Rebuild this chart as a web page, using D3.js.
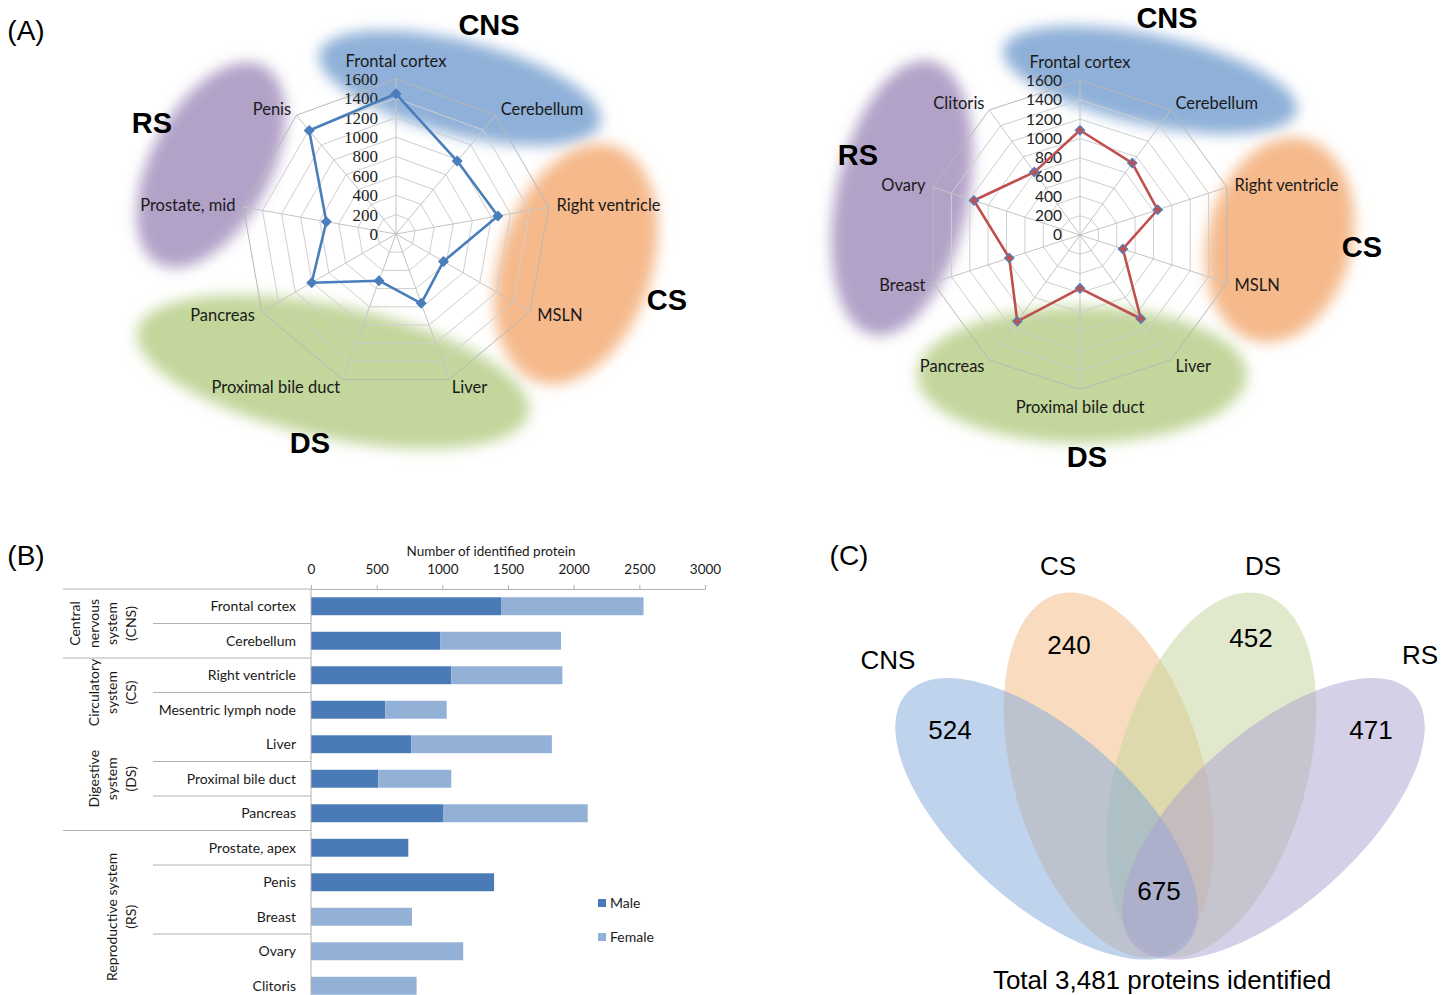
<!DOCTYPE html>
<html>
<head>
<meta charset="utf-8">
<script src="https://cdn.jsdelivr.net/npm/d3@7"></script>
<style>
  body { margin: 0; background: #fff; }
  svg { display: block; }
  .cal { font-family: Lato, "Open Sans", sans-serif; fill: #1a1a1a; }
  .ari { font-family: "Liberation Sans", Arial, sans-serif; fill: #000; }
</style>
</head>
<body>
<svg id="fig" width="1455" height="995"></svg>
<script>
// ---- data (A) radar charts
const maleTissues = ["Frontal cortex", "Cerebellum", "Right ventricle", "MSLN", "Liver",
  "Proximal bile duct", "Pancreas", "Prostate, mid", "Penis"];
const maleCounts = [1447, 983, 1068, 566, 762, 513, 1005, 730, 1394];
const femaleTissues = ["Frontal cortex", "Cerebellum", "Right ventricle", "MSLN", "Liver",
  "Proximal bile duct", "Pancreas", "Breast", "Ovary", "Clitoris"];
const femaleCounts = [1085, 921, 846, 467, 1072, 552, 1105, 770, 1155, 805];
const radarTicks = [0, 200, 400, 600, 800, 1000, 1200, 1400, 1600];

// ---- data (B) bar chart
const barTissues = ["Frontal cortex", "Cerebellum", "Right ventricle", "Mesentric lymph node",
  "Liver", "Proximal bile duct", "Pancreas", "Prostate, apex", "Penis", "Breast", "Ovary", "Clitoris"];
const barMale   = [1447, 983, 1068, 566, 762, 513, 1005, 741, 1394, 0, 0, 0];
const barFemale = [1085, 921, 846, 467, 1072, 555, 1102, 0, 0, 769, 1159, 804];
const barTicks = [0, 500, 1000, 1500, 2000, 2500, 3000];
const systemNames = [["Central", "nervous", "system", "(CNS)"], ["Circulatory", "system", "(CS)"],
  ["Digestive", "system", "(DS)"], ["Reproductive system", "(RS)"]];
const systemRows = [[0, 2], [2, 4], [4, 7], [7, 12]];

// ---- data (C) venn
const vennSets = ["CNS", "CS", "DS", "RS"];
const vennUnique = [524, 240, 452, 471];
const vennShared = 675;
const totalProteins = 3481;

const svg = d3.select("#fig");
const defs = svg.append("defs");
defs.append("filter").attr("id", "soft")
    .attr("x", "-40%").attr("y", "-40%").attr("width", "180%").attr("height", "180%")
  .append("feGaussianBlur").attr("stdDeviation", 7);

const sysColor = {CNS: "#8fb0d8", CS: "#f5b98b", DS: "#c3d69b", RS: "#b2a2c8"};

// panel letters
[["(A)", 26, 30], ["(B)", 26, 555], ["(C)", 849, 555]].forEach(d => {
  svg.append("text").attr("class", "ari").attr("x", d[1]).attr("y", d[2]).attr("dy", "0.35em")
    .attr("text-anchor", "middle").style("font-size", "28px").text(d[0]);
});

// ================= (A) radar =================
function radar(cx, cy, R, tissues, counts, opt) {
  const g = svg.append("g");
  // soft system blobs
  opt.blobs.forEach(b => {
    g.append("ellipse").attr("rx", b[3]).attr("ry", b[4])
      .attr("transform", `translate(${b[1]},${b[2]}) rotate(${b[5]})`)
      .attr("fill", sysColor[b[0]]).attr("filter", "url(#soft)");
  });
  opt.tags.forEach(t => {
    g.append("text").attr("class", "ari").attr("x", t[1]).attr("y", t[2]).attr("dy", "0.35em")
      .attr("text-anchor", "middle").style("font-size", "29px").style("font-weight", "bold").text(t[0]);
  });

  const n = tissues.length, step = 2 * Math.PI / n;
  const r = d3.scaleLinear().domain([0, 1600]).range([0, R]);
  const ring = d3.lineRadial().angle((d, i) => i * step).radius(d => r(d)).curve(d3.curveLinearClosed);

  // rings and spokes
  radarTicks.slice(1).forEach(t => {
    g.append("path").attr("d", ring(tissues.map(() => t)))
      .attr("fill", "none").attr("stroke", t === 1600 ? "#b8b8b8" : "#cfcfcf").attr("stroke-width", 1);
  });
  tissues.forEach((d, i) => {
    const a = i * step;
    g.append("line").attr("x1", cx).attr("y1", cy)
      .attr("x2", cx + r(1600) * Math.sin(a)).attr("y2", cy - r(1600) * Math.cos(a))
      .attr("stroke", "#c4c4c4").attr("stroke-width", 1);
  });
  g.selectAll("path").attr("transform", `translate(${cx},${cy})`);

  // tick labels
  radarTicks.forEach(t => {
    g.append("text").attr("x", cx - 18).attr("y", cy - r(t)).attr("dy", "0.35em")
      .attr("text-anchor", "end")
      .style("font-family", opt.tickFont).style("font-size", opt.tickSize).style("fill", "#222")
      .text(t);
  });

  // series
  g.append("path").attr("d", ring(counts)).attr("transform", `translate(${cx},${cy})`)
    .attr("fill", "none").attr("stroke", opt.line).attr("stroke-width", 2.6).attr("stroke-linejoin", "round");
  const sym = d3.symbol(d3.symbolSquare, 42);
  counts.forEach((v, i) => {
    const a = i * step;
    g.append("path").attr("d", sym())
      .attr("transform", `translate(${cx + r(v) * Math.sin(a)},${cy - r(v) * Math.cos(a)}) rotate(45)`)
      .attr("fill", opt.line).attr("stroke", opt.marker).attr("stroke-width", 1.3);
  });

  // category labels
  tissues.forEach((d, i) => {
    const a = i * step, s = Math.sin(a), c = Math.cos(a);
    let lx = cx + (R + 8) * s, ly = cy - (R + 8) * c;
    if (Math.abs(s) < 0.05) ly -= 10 * c;
    g.append("text").attr("class", "cal").attr("x", lx).attr("y", ly).attr("dy", "0.35em")
      .attr("text-anchor", Math.abs(s) < 0.05 ? "middle" : (s > 0 ? "start" : "end"))
      .style("font-size", "16.5px").text(d);
  });
}

radar(396, 234, 155, maleTissues, maleCounts, {
  line: "#4a7ebb", marker: "#4a7ebb", tickFont: "'Liberation Serif', serif", tickSize: "17px",
  blobs: [["CNS", 460, 88, 145, 47, 14], ["CS", 576, 264, 76, 124, 18],
          ["RS", 211, 165, 60, 112, 28], ["DS", 333, 372, 200, 66, 12]],
  tags: [["CNS", 489, 25], ["RS", 152, 123], ["CS", 667, 300], ["DS", 310, 443]]
});
radar(1080, 235, 154.5, femaleTissues, femaleCounts, {
  line: "#c0504d", marker: "#4f81bd", tickFont: "Lato, sans-serif", tickSize: "15.5px",
  blobs: [["CNS", 1150, 80, 150, 45, 12], ["CS", 1280, 240, 72, 104, 14],
          ["RS", 902, 198, 66, 140, 12], ["DS", 1082, 375, 165, 68, 0]],
  tags: [["CNS", 1167, 18], ["RS", 858, 155], ["CS", 1362, 247], ["DS", 1087, 457]]
});

// ================= (B) bar chart =================
const top0 = 589, rowH = 34.5;
const xB = d3.scaleLinear().domain([0, 3000]).range([311, 705]);
const yB = d3.scaleBand().domain(barTissues).range([top0, top0 + rowH * barTissues.length])
  .paddingInner(0.48).paddingOuter(0.24);
const gB = svg.append("g");

const barRows = barTissues.map((t, i) => ({tissue: t, Male: barMale[i], Female: barFemale[i]}));
const stack = d3.stack().keys(["Male", "Female"])(barRows);
const barColor = {Male: "#4a7bb7", Female: "#93b0d6"};

gB.selectAll("g.series").data(stack).join("g").attr("fill", d => barColor[d.key])
  .selectAll("rect").data(d => d).join("rect")
  .attr("x", d => xB(d[0])).attr("width", d => xB(d[1]) - xB(d[0]))
  .attr("y", d => yB(d.data.tissue)).attr("height", yB.bandwidth());

const axB = gB.append("g").attr("transform", `translate(0,${top0})`)
  .call(d3.axisTop(xB).tickValues(barTicks).tickFormat(d3.format("d"))
    .tickSize(4).tickSizeOuter(0).tickPadding(11));
axB.select(".domain").attr("stroke", "#b0b0b0");
axB.selectAll(".tick line").attr("stroke", "#b0b0b0");
axB.selectAll(".tick text").attr("class", "cal").style("font-size", "13.5px").attr("fill", "#222");
gB.append("text").attr("class", "cal").attr("x", 491).attr("y", 551).attr("dy", "0.35em")
  .attr("text-anchor", "middle").style("font-size", "13.5px").text("Number of identified protein");

// category axis line and separators
gB.append("line").attr("x1", xB(0)).attr("x2", xB(0)).attr("y1", top0).attr("y2", 995)
  .attr("stroke", "#b0b0b0");
const fullCuts = [0, 2, 7], shortCuts = [1, 3, 5, 6, 8, 10];
fullCuts.concat(shortCuts).forEach(k => {
  gB.append("line").attr("x1", fullCuts.includes(k) ? 63 : 153).attr("x2", xB(0))
    .attr("y1", top0 + k * rowH).attr("y2", top0 + k * rowH).attr("stroke", "#b0b0b0");
});
barTissues.forEach(t => {
  gB.append("text").attr("class", "cal").attr("x", 296).attr("y", yB(t) + yB.bandwidth() / 2)
    .attr("dy", "0.35em").attr("text-anchor", "end").style("font-size", "14px").text(t);
});
systemNames.forEach((lines, gi) => {
  const yc = top0 + (systemRows[gi][0] + systemRows[gi][1]) / 2 * rowH;
  lines.forEach((ln, i) => {
    const x = 131 - (lines.length - 1 - i) * 18.5;
    gB.append("text").attr("class", "cal").attr("transform", `translate(${x},${yc}) rotate(-90)`)
      .attr("dy", "0.35em").attr("text-anchor", "middle").style("font-size", "14px").text(ln);
  });
});
// legend
["Male", "Female"].forEach((k, i) => {
  gB.append("rect").attr("x", 598).attr("y", 899 + i * 34).attr("width", 8).attr("height", 8)
    .attr("fill", barColor[k]);
  gB.append("text").attr("class", "cal").attr("x", 610).attr("y", 903 + i * 34).attr("dy", "0.35em")
    .style("font-size", "14px").text(k);
});

// ================= (C) venn =================
const xV = d3.scaleLinear().domain([-1, 1]).range([1160 - 270, 1160 + 270]);
const yV = d3.scaleLinear().domain([0, 1]).range([590, 955]);
// drawn back to front: the two inner sets first, the outer ones on top
const ellipses = [
  {set: "CS", cx: -0.19, cy: 0.507, a: 188, b: 95, rot: 74, fill: "#f3b981"},
  {set: "DS", cx: 0.19, cy: 0.507, a: 188, b: 95, rot: -74, fill: "#c3d399"},
  {set: "CNS", cx: -0.42, cy: 0.627, a: 188, b: 86, rot: 41.8, fill: "#80a8dc"},
  {set: "RS", cx: 0.42, cy: 0.627, a: 188, b: 86, rot: -41.8, fill: "#ab9fcf"}
];
const gV = svg.append("g");
gV.selectAll("ellipse").data(ellipses).join("ellipse")
  .attr("rx", d => d.a).attr("ry", d => d.b)
  .attr("transform", d => `translate(${xV(d.cx)},${yV(d.cy)}) rotate(${d.rot})`)
  .attr("fill", d => d.fill).attr("fill-opacity", 0.5);

const setLabelPos = [[888, 660], [1058, 566], [1263, 566], [1420, 655]];
const uniquePos = [[950, 730], [1069, 645], [1251, 638], [1371, 730]];
vennSets.forEach((s, i) => {
  gV.append("text").attr("class", "ari").attr("x", setLabelPos[i][0]).attr("y", setLabelPos[i][1])
    .attr("dy", "0.35em").attr("text-anchor", "middle").style("font-size", "26px").text(s);
  gV.append("text").attr("class", "ari").attr("x", uniquePos[i][0]).attr("y", uniquePos[i][1])
    .attr("dy", "0.35em").attr("text-anchor", "middle").style("font-size", "26px").text(vennUnique[i]);
});
gV.append("text").attr("class", "ari").attr("x", 1159).attr("y", 891).attr("dy", "0.35em")
  .attr("text-anchor", "middle").style("font-size", "26px").text(vennShared);
gV.append("text").attr("class", "ari").attr("x", 1162).attr("y", 980).attr("dy", "0.35em")
  .attr("text-anchor", "middle").style("font-size", "26px")
  .text(`Total ${d3.format(",")(totalProteins)} proteins identified`);
</script>
</body>
</html>
